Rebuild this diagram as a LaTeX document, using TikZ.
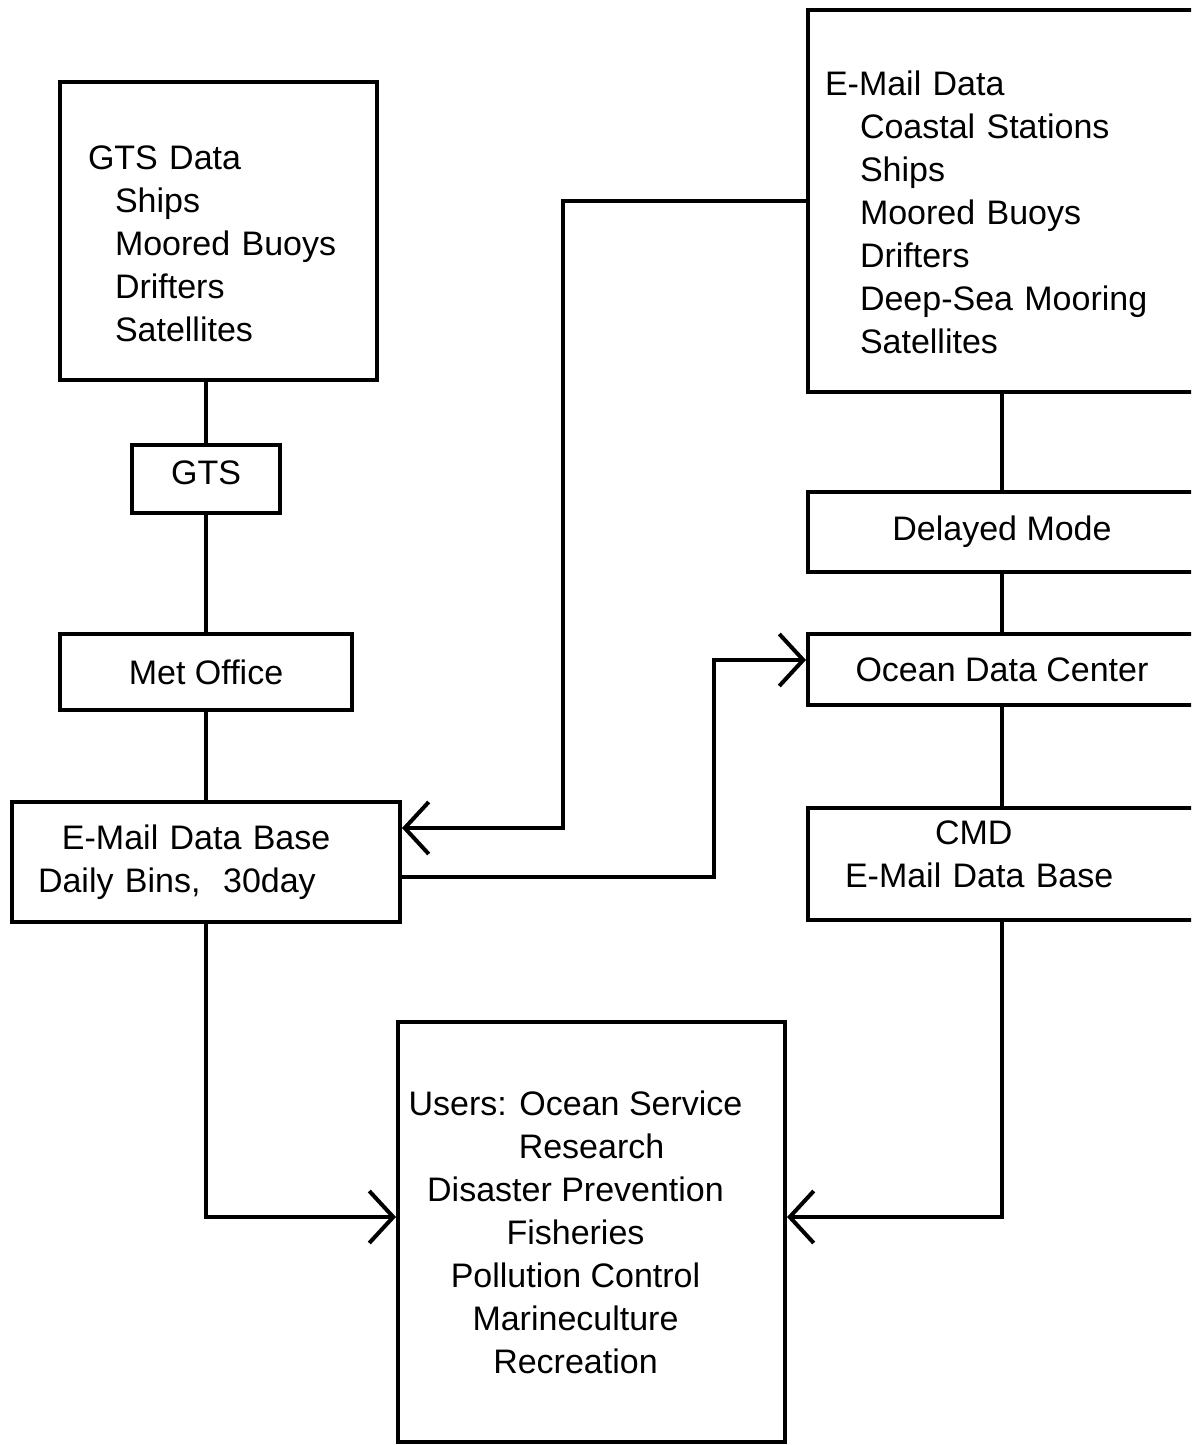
\documentclass[tikz,border=0pt]{standalone}
\usepackage{fontspec}
\setmainfont{Liberation Sans}
\usetikzlibrary{arrows.meta,positioning}

\begin{document}
\begin{tikzpicture}[x=0.5pt,y=-0.5pt,line width=2pt]
		\tikzstyle{box}=[draw,shape=rectangle,inner sep=0pt,font=\fontsize{17}{21.5}\selectfont]
		\tikzstyle{arr}=[-{Straight Barb[length=12pt,width=26pt]}]

		\useasboundingbox (0,0) rectangle (1191,1445);
		\clip (0,0) rectangle (1191,1445);

		\node[box,minimum width=158.5pt,minimum height=149pt,inner xsep=14pt,text width=130.5pt,align=left](gtsdata) at (218.5,231){\rule{0pt}{24.5pt}GTS Data\\\hspace*{13.5pt}Ships\\\hspace*{13.5pt}Moored Buoys\\\hspace*{13.5pt}Drifters\\\hspace*{13.5pt}Satellites};
		\node[box,minimum width=74pt,minimum height=34pt](gts) at (206,479){GTS\rule[-6pt]{0pt}{6pt}};
		\node[box,minimum width=146pt,minimum height=38pt](metoffice) at (206,672){Met Office};
		\node[box,minimum width=194pt,minimum height=60pt,inner xsep=13pt,text width=168pt,align=left](emaildb) at (206,862){\hspace*{12pt}E-Mail Data Base\\Daily Bins,~ 30day};
		\node[box,minimum width=193.5pt,minimum height=210pt,align=center](users) at (591.5,1232){Users: Ocean Service\hspace*{16pt}\null\\Research\\Disaster Prevention\hspace*{16pt}\null\\Fisheries\hspace*{16pt}\null\\Pollution Control\hspace*{16pt}\null\\Marineculture\hspace*{16pt}\null\\Recreation\hspace*{16pt}\null};

		\node[box,minimum width=194pt,minimum height=191pt,inner xsep=8.5pt,text width=177pt,align=left](emaildata) at (1002,201){\rule{0pt}{23.5pt}E-Mail Data\\\hspace*{17.5pt}Coastal Stations\\\hspace*{17.5pt}Ships\\\hspace*{17.5pt}Moored Buoys\\\hspace*{17.5pt}Drifters\\\hspace*{17.5pt}Deep-Sea Mooring\\\hspace*{17.5pt}Satellites};
		\node[box,minimum width=194pt,minimum height=40pt](delayed) at (1002,532){Delayed Mode};
		\node[box,minimum width=194pt,minimum height=35.5pt](odc) at (1002,669.5){Ocean Data Center};
		\node[box,minimum width=194pt,minimum height=56pt,inner xsep=18.5pt,text width=157pt,align=left](cmd) at (1002,864){\hspace*{45pt}CMD\\E-Mail Data Base\rule[-10pt]{0pt}{10pt}};

		\draw (gtsdata.south -| gts.north) -- (gts.north);
		\draw (gts) -- (metoffice);
		\draw (metoffice) -- (emaildb);

		\draw (emaildata) -- (delayed);
		\draw (delayed) -- (odc);
		\draw (odc) -- (cmd);

		\draw[arr] (emaildata.west) -- ++(-243,0) |- ([yshift=17pt]emaildb.east);
		\draw[arr] ([yshift=-7.5pt]emaildb.east) -- ++(312,0) |- ([yshift=4.75pt]odc.west);
		\draw[arr] (emaildb.south) |- ([yshift=7.5pt]users.west);
		\draw[arr] (cmd.south) |- ([yshift=7.5pt]users.east);
	\end{tikzpicture}
\end{document}
